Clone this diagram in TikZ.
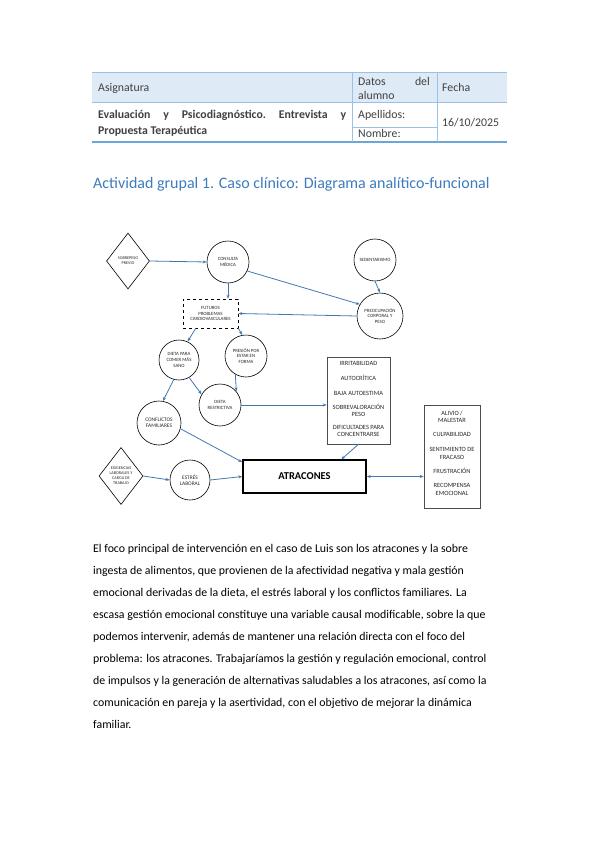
\documentclass[tikz,border=0pt]{standalone}
\usepackage{fontspec}
\setmainfont{Carlito}
\usetikzlibrary{shapes.geometric,arrows.meta,shadows}
\definecolor{hdrfill}{RGB}{222,235,247}
\definecolor{hdrline}{RGB}{155,194,230}
\definecolor{hdrdark}{RGB}{110,165,215}
\definecolor{titleblue}{RGB}{62,124,190}
\definecolor{txtgray}{RGB}{64,64,64}
\definecolor{arrblue}{RGB}{70,120,175}
\definecolor{dgtext}{RGB}{40,40,40}
\newcommand\dgfont{\fontsize{4.8}{5.6}\selectfont}
\newcommand\dafont{\fontsize{4.2}{5}\selectfont}
\newcommand\lsfont{\fontsize{6.4}{7.2}\selectfont}
\begin{document}
\begin{tikzpicture}[x=1pt,y=-1pt,
  tabtxt/.style={anchor=base west,inner sep=0pt,text=txtgray,font=\fontsize{11.8}{13}\selectfont},
  bodytxt/.style={anchor=base west,inner sep=0pt,font=\fontsize{11.85}{13}\selectfont},
  circ/.style={circle,draw,line width=0.6pt,inner sep=0pt,align=center,text=dgtext,font=\dgfont},
  dia/.style={diamond,draw,line width=0.6pt,inner sep=0pt,align=center,text=dgtext,font=\dafont},
  lstbox/.style={rectangle,draw=black!70,line width=0.5pt,fill=white,inner sep=0pt,
     drop shadow={shadow xshift=1.2pt,shadow yshift=-1.2pt,fill=black!45,opacity=.7}},
  lst/.style={inner sep=0pt,align=center,text=dgtext,font=\lsfont},
  arr/.style={draw=arrblue,line width=0.8pt,-{Stealth[length=4pt,width=3pt]}},
  darr/.style={draw=arrblue,line width=0.8pt,{Stealth[length=4pt,width=3pt]}-{Stealth[length=4pt,width=3pt]}}]
\useasboundingbox (0,0) rectangle (599,848);
\fill[white] (0,0) rectangle (599,848);
% ---------- table ----------
\fill[hdrfill] (92,72) rectangle (507,102);
\draw[hdrline,line width=0.8pt] (92,72) -- (507,72);
\draw[hdrline,line width=0.6pt] (92,102) -- (507,102);
\draw[hdrline,line width=0.6pt] (352,127) -- (437,127);
\draw[hdrdark,line width=1.2pt] (92,142) -- (507,142);
\draw[hdrline,line width=0.6pt] (352,72) -- (352,142);
\draw[hdrline,line width=0.6pt] (437,72) -- (437,142);
\node[tabtxt] (t1) at (98,92) {Asignatura};
\node[tabtxt] (t2) at (358,86) {Datos};
\node[tabtxt,anchor=base east] (t3) at (430,86) {del};
\node[tabtxt] (t4) at (358,99.5) {alumno};
\node[tabtxt] (t5) at (442,92) {Fecha};
\node[tabtxt,font=\fontsize{11.8}{13}\bfseries] (t6) at (98,118) {\makebox[248pt][s]{Evaluación\hfill y\hfill Psicodiagnóstico.\hfill Entrevista\hfill y}};
\node[tabtxt,font=\fontsize{11.8}{13}\bfseries] (t7) at (98,135) {Propuesta Terapéutica};
\node[tabtxt] (t8) at (358,118) {Apellidos:};
\node[tabtxt] (t9) at (358,137) {Nombre:};
\node[tabtxt] (t10) at (442,127) {16/10/2025};
% ---------- title ----------
\node[anchor=base west,inner sep=0pt,text=titleblue,font=\fontsize{16}{18}\selectfont] (title) at (93,188) {Actividad grupal 1. Caso clínico: Diagrama analítico-funcional};
% ---------- diagram ----------
\node[dia,minimum width=43pt,minimum height=56pt] (d1) at (128,261) {SOBREPESO\\PREVIO};
\node[circ,minimum size=42pt] (c1) at (228,262) {CONSULTA\\MÉDICA};
\node[circ,minimum size=42pt] (c2) at (375,260) {SEDENTARISMO};
\node[circ,minimum size=46pt] (c3) at (380,316) {PREOCUPACIÓN\\CORPORAL Y\\PESO};
\node[rectangle,draw,dashed,line width=0.6pt,minimum width=55pt,minimum height=29pt,inner sep=0pt,align=center,text=dgtext,font=\dgfont] (box) at (210.5,313.5) {FUTUROS\\PROBLEMAS\\CARDIOVASCULARES};
\node[circ,minimum size=40pt] (c4) at (179,360) {DIETA PARA\\COMER MÁS\\SANO};
\node[circ,minimum size=42pt] (c5) at (246,356) {PRESIÓN POR\\ESTAR EN\\FORMA};
\node[circ,minimum size=42pt] (c6) at (220,405) {DIETA\\RESTRICTIVA};
\node[circ,minimum size=44pt,font=\fontsize{5.4}{6.4}\selectfont] (c7) at (159,423) {CONFLICTOS\\FAMILIARES};
\node[dia,minimum width=44pt,minimum height=57pt] (d2) at (121,476) {EXIGENCIAS\\LABORALES Y\\CARGA DE\\TRABAJO};
\node[circ,minimum size=40pt,font=\fontsize{5.4}{6.4}\selectfont] (c8) at (190,480) {ESTRÉS\\LABORAL};
\node[rectangle,draw,line width=1.4pt,minimum width=123pt,minimum height=33pt,inner sep=0pt,font=\fontsize{10.5}{12}\bfseries] (atr) at (304.5,476.5) {ATRACONES};
\node[lstbox,minimum width=63pt,minimum height=87pt] (lstb) at (358.5,400.5) {};
\node[lst] (l1) at (358.5,363) {IRRITABILIDAD};
\node[lst] (l2) at (358.5,378) {AUTOCRÍTICA};
\node[lst] (l3) at (358.5,393) {BAJA AUTOESTIMA};
\node[lst] (l4) at (358.5,410) {SOBREVALORACIÓN\\PESO};
\node[lst] (l5) at (358.5,431) {DIFICULTADES PARA\\CONCENTRARSE};
\node[lstbox,minimum width=56pt,minimum height=103pt] (rb) at (452,456.5) {};
\node[lst] (r1) at (452,416.5) {ALIVIO /\\MALESTAR};
\node[lst] (r2) at (452,434) {CULPABILIDAD};
\node[lst] (r3) at (452,453.5) {SENTIMIENTO DE\\FRACASO};
\node[lst] (r4) at (452,471) {FRUSTRACIÓN};
\node[lst] (r5) at (452,489.5) {RECOMPENSA\\EMOCIONAL};
% arrows
\draw[arr] (d1.east) -- (c1.west);
\draw[arr] (c1.south) -- (c1.south |- box.north);
\draw[arr] (c1.-25) -- (c3.150);
\draw[arr] (c2.south) -- (c3.north);
\draw[arr] (c3.west) -- (box.east);
\draw[arr] (box.225) -- (c4.65);
\draw[arr] (box.south east) -- (c5.100);
\draw[arr] (c4.-60) -- (c6.150);
\draw[arr] (c5.-120) -- (c6.40);
\draw[arr] (c4.-105) -- (c7.80);
\draw[arr] (c6.east) -- (lstb.west |- c6.east);
\draw[arr] (lstb.south) -- (atr.25);
\draw[arr] (c7.-15) -- (atr.167);
\draw[arr] (c8.east) -- (atr.west);
\draw[arr] (d2.east) -- (c8.west);
\draw[darr] (atr.east) -- (rb.west |- atr.east);
% ---------- body text ----------
\node[bodytxt] (p1) at (93,552) {El foco principal de intervención en el caso de Luis son los atracones y la sobre};
\node[bodytxt] (p2) at (93,574) {ingesta de alimentos, que provienen de la afectividad negativa y mala gestión};
\node[bodytxt] (p3) at (93,596) {emocional derivadas de la dieta, el estrés laboral y los conflictos familiares. La};
\node[bodytxt] (p4) at (93,618) {escasa gestión emocional constituye una variable causal modificable, sobre la que};
\node[bodytxt] (p5) at (93,640) {podemos intervenir, además de mantener una relación directa con el foco del};
\node[bodytxt] (p6) at (93,662) {problema: los atracones. Trabajaríamos la gestión y regulación emocional, control};
\node[bodytxt] (p7) at (93,684) {de impulsos y la generación de alternativas saludables a los atracones, así como la};
\node[bodytxt] (p8) at (93,706) {comunicación en pareja y la asertividad, con el objetivo de mejorar la dinámica};
\node[bodytxt] (p9) at (93,728) {familiar.};
\end{tikzpicture}
\end{document}
